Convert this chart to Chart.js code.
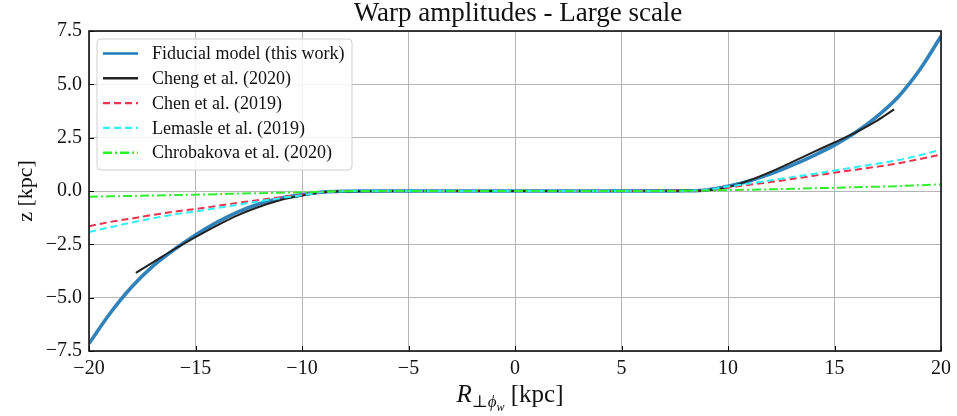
<!DOCTYPE html>
<html>
<head>
<meta charset="utf-8">
<script src="https://cdn.jsdelivr.net/npm/chart.js@4.4.1/dist/chart.umd.min.js"></script>
<style>
  html, body { margin: 0; padding: 0; background: #fff; }
  #wrap { width: 957px; height: 416px; }
</style>
</head>
<body>
<div id="wrap"><canvas id="warpChart" width="957" height="416"></canvas></div>
<script>
/* Warp amplitudes - large scale (z vs R, kpc) */

// --- datos ---
const R = [-20,-19,-18,-17,-16,-15,-14,-13,-12,-11,-10,-9,-8,-7,-6,-5,-4,-3,-2,-1,0,
           1,2,3,4,5,6,7,8,9,10,11,12,13,14,15,16,17,18,19,20];

const fiducial = [-7.15,-5.72,-4.5,-3.52,-2.74,-2.06,-1.47,-0.98,-0.6,-0.34,-0.17,-0.05,-0.01,
                  0,0,0,0,0,0,0,0,0,0,0,0,0,0,0,
                  0.01,0.05,0.22,0.47,0.8,1.2,1.65,2.15,2.75,3.5,4.42,5.68,7.25];

const R_cheng = [-17.8,-17,-16,-15,-14,-13,-12,-11,-10,-9,-8,-4,0,4,8,9,10,11,12,13,14,15,16,17,17.8];
const cheng   = [-3.84,-3.35,-2.73,-2.16,-1.62,-1.13,-0.74,-0.42,-0.22,-0.06,-0.01,0,0,0,
                 0.01,0.04,0.18,0.5,0.9,1.35,1.82,2.28,2.75,3.3,3.83];

const chen = [-1.65,-1.45,-1.29,-1.12,-0.97,-0.84,-0.7,-0.55,-0.42,-0.29,-0.17,-0.05,0,
              0,0,0,0,0,0,0,0,0,0,0,0,0,0,0,
              0,0.04,0.16,0.29,0.42,0.56,0.71,0.86,1.0,1.14,1.3,1.5,1.71];

const lemasle = [-1.92,-1.7,-1.48,-1.28,-1.1,-0.96,-0.8,-0.64,-0.48,-0.33,-0.2,-0.06,-0.01,
                 0,0,0,0,0,0,0,0,0,0,0,0,0,0,0,
                 0.01,0.06,0.21,0.35,0.5,0.65,0.8,0.96,1.12,1.28,1.45,1.68,1.94];

const chrobakova = [-0.27,-0.25,-0.23,-0.21,-0.19,-0.17,-0.15,-0.12,-0.1,-0.08,-0.06,-0.03,-0.01,
                    0,0,0,0,0,0,0,0,0,0,0,0,0,0,0,
                    0.01,0.02,0.04,0.06,0.08,0.1,0.13,0.15,0.18,0.2,0.23,0.27,0.31];

const X_TICKS = [-20,-15,-10,-5,0,5,10,15,20];
const Y_TICKS = [-7.5,-5.0,-2.5,0.0,2.5,5.0,7.5];

const SERIF = "'Liberation Serif', 'DejaVu Serif', serif";
const pts = (xs, ys) => xs.map((x, i) => ({ x: x, y: ys[i] }));
const minus = (s) => s.replace('-', '\u2212');

// --- decoracion estilo matplotlib: titulo, ejes, leyenda ---
const mplDecor = {
  id: 'mplDecor',
  beforeDraw(chart) {
    const ctx = chart.ctx;
    ctx.save();
    ctx.fillStyle = '#fff';
    ctx.fillRect(0, 0, chart.width, chart.height);
    ctx.restore();
  },
  afterDraw(chart) {
    const ctx = chart.ctx;
    const a = chart.chartArea;
    const xs = chart.scales.x, ys = chart.scales.y;
    ctx.save();

    // ticks hacia dentro
    ctx.strokeStyle = '#000';
    ctx.lineWidth = 1;
    X_TICKS.forEach(v => {
      const px = Math.round(xs.getPixelForValue(v)) + 0.5;
      ctx.beginPath(); ctx.moveTo(px, a.bottom); ctx.lineTo(px, a.bottom - 5); ctx.stroke();
    });
    Y_TICKS.forEach(v => {
      const py = Math.round(ys.getPixelForValue(v)) + 0.5;
      ctx.beginPath(); ctx.moveTo(a.left, py); ctx.lineTo(a.left + 5, py); ctx.stroke();
    });

    // marco
    ctx.lineWidth = 1.6;
    ctx.strokeStyle = '#111';
    ctx.strokeRect(a.left, a.top, a.right - a.left, a.bottom - a.top);

    // leyenda
    const lx = 97, ly = 39, lw = 255, lh = 131, r = 4;
    ctx.beginPath();
    ctx.moveTo(lx + r, ly);
    ctx.arcTo(lx + lw, ly, lx + lw, ly + lh, r);
    ctx.arcTo(lx + lw, ly + lh, lx, ly + lh, r);
    ctx.arcTo(lx, ly + lh, lx, ly, r);
    ctx.arcTo(lx, ly, lx + lw, ly, r);
    ctx.closePath();
    ctx.fillStyle = 'rgba(255,255,255,0.85)';
    ctx.fill();
    ctx.lineWidth = 1;
    ctx.strokeStyle = '#d0d0d0';
    ctx.stroke();

    chart.data.datasets.forEach((ds, i) => {
      const y = 53.5 + i * 24.8;
      ctx.beginPath();
      ctx.setLineDash(ds.borderDash || []);
      ctx.strokeStyle = ds.legendColor || ds.borderColor;
      ctx.lineWidth = 2.4;
      ctx.moveTo(103, y); ctx.lineTo(138, y);
      ctx.stroke();
      ctx.setLineDash([]);
      ctx.fillStyle = '#111';
      ctx.font = '18px ' + SERIF;
      ctx.textBaseline = 'middle';
      ctx.textAlign = 'left';
      ctx.fillText(ds.label, 152, y + 1);
    });

    // titulo
    ctx.fillStyle = '#111';
    ctx.font = '27px ' + SERIF;
    ctx.textAlign = 'center';
    ctx.textBaseline = 'middle';
    ctx.fillText('Warp amplitudes - Large scale', (a.left + a.right) / 2 + 3, 14);

    // etiqueta eje y
    ctx.save();
    ctx.translate(26, (a.top + a.bottom) / 2);
    ctx.rotate(-Math.PI / 2);
    ctx.font = '22px ' + SERIF;
    ctx.fillText('z [kpc]', 0, 0);
    ctx.restore();

    // etiqueta eje x: R_{\perp\phi_w} [kpc]
    const parts = [
      { t: 'R', f: 'italic 25px ' + SERIF, dy: 0 },
      { t: '\u22a5\u03d5', f: 'italic 17px ' + SERIF, dy: 5 },
      { t: 'w', f: 'italic 12px ' + SERIF, dy: 9 },
      { t: ' [kpc]', f: '25px ' + SERIF, dy: 0 }
    ];
    let total = 0;
    parts.forEach(p => { ctx.font = p.f; p.w = ctx.measureText(p.t).width; total += p.w; });
    let cx = (a.left + a.right) / 2 - total / 2 - 5;
    const baseY = 402;
    ctx.textAlign = 'left';
    ctx.textBaseline = 'alphabetic';
    parts.forEach(p => { ctx.font = p.f; ctx.fillText(p.t, cx, baseY + p.dy); cx += p.w; });

    ctx.restore();
  }
};

const ctx = document.getElementById('warpChart').getContext('2d');
new Chart(ctx, {
  type: 'line',
  data: {
    datasets: [
      {
        label: 'Fiducial model (this work)',
        data: pts(R, fiducial),
        borderColor: 'rgba(31,119,180,0.92)',
        legendColor: '#1f77b4',
        borderWidth: 3.6,
        order: 5
      },
      {
        label: 'Cheng et al. (2020)',
        data: pts(R_cheng, cheng),
        borderColor: '#222222',
        borderWidth: 2,
        order: 4
      },
      {
        label: 'Chen et al. (2019)',
        data: pts(R, chen),
        borderColor: '#e8344f',
        borderWidth: 2,
        borderDash: [7, 4],
        order: 3
      },
      {
        label: 'Lemasle et al. (2019)',
        data: pts(R, lemasle),
        borderColor: '#2ef0f5',
        borderWidth: 2,
        borderDash: [7, 4],
        order: 2
      },
      {
        label: 'Chrobakova et al. (2020)',
        data: pts(R, chrobakova),
        borderColor: '#30ee30',
        borderWidth: 2,
        borderDash: [9, 3, 2, 3],
        order: 1
      }
    ]
  },
  options: {
    responsive: false,
    devicePixelRatio: 1,
    animation: false,
    layout: { padding: { top: 31, right: 15, left: 0, bottom: 0 } },
    elements: {
      point: { radius: 0 },
      line: { cubicInterpolationMode: 'monotone', fill: false, borderCapStyle: 'butt' }
    },
    plugins: {
      legend: { display: false },
      title: { display: false },
      tooltip: { enabled: false }
    },
    scales: {
      x: {
        type: 'linear',
        min: -20, max: 20,
        afterFit: (s) => { s.height = 65; },
        afterBuildTicks: (s) => { s.ticks = X_TICKS.map(v => ({ value: v })); },
        grid: { color: '#b5b5b5', lineWidth: 1, drawTicks: false },
        border: { display: false },
        ticks: {
          padding: 6,
          color: '#111',
          font: { family: SERIF, size: 20 },
          maxRotation: 0,
          callback: (v) => minus(String(v))
        }
      },
      y: {
        type: 'linear',
        min: -7.5, max: 7.5,
        afterFit: (s) => { s.width = 89; },
        afterBuildTicks: (s) => { s.ticks = Y_TICKS.map(v => ({ value: v })); },
        grid: { color: '#b5b5b5', lineWidth: 1, drawTicks: false },
        border: { display: false },
        ticks: {
          padding: 7,
          color: '#111',
          font: { family: SERIF, size: 20 },
          callback: (v) => minus(Number(v).toFixed(1))
        }
      }
    }
  },
  plugins: [mplDecor]
});
</script>
</body>
</html>
